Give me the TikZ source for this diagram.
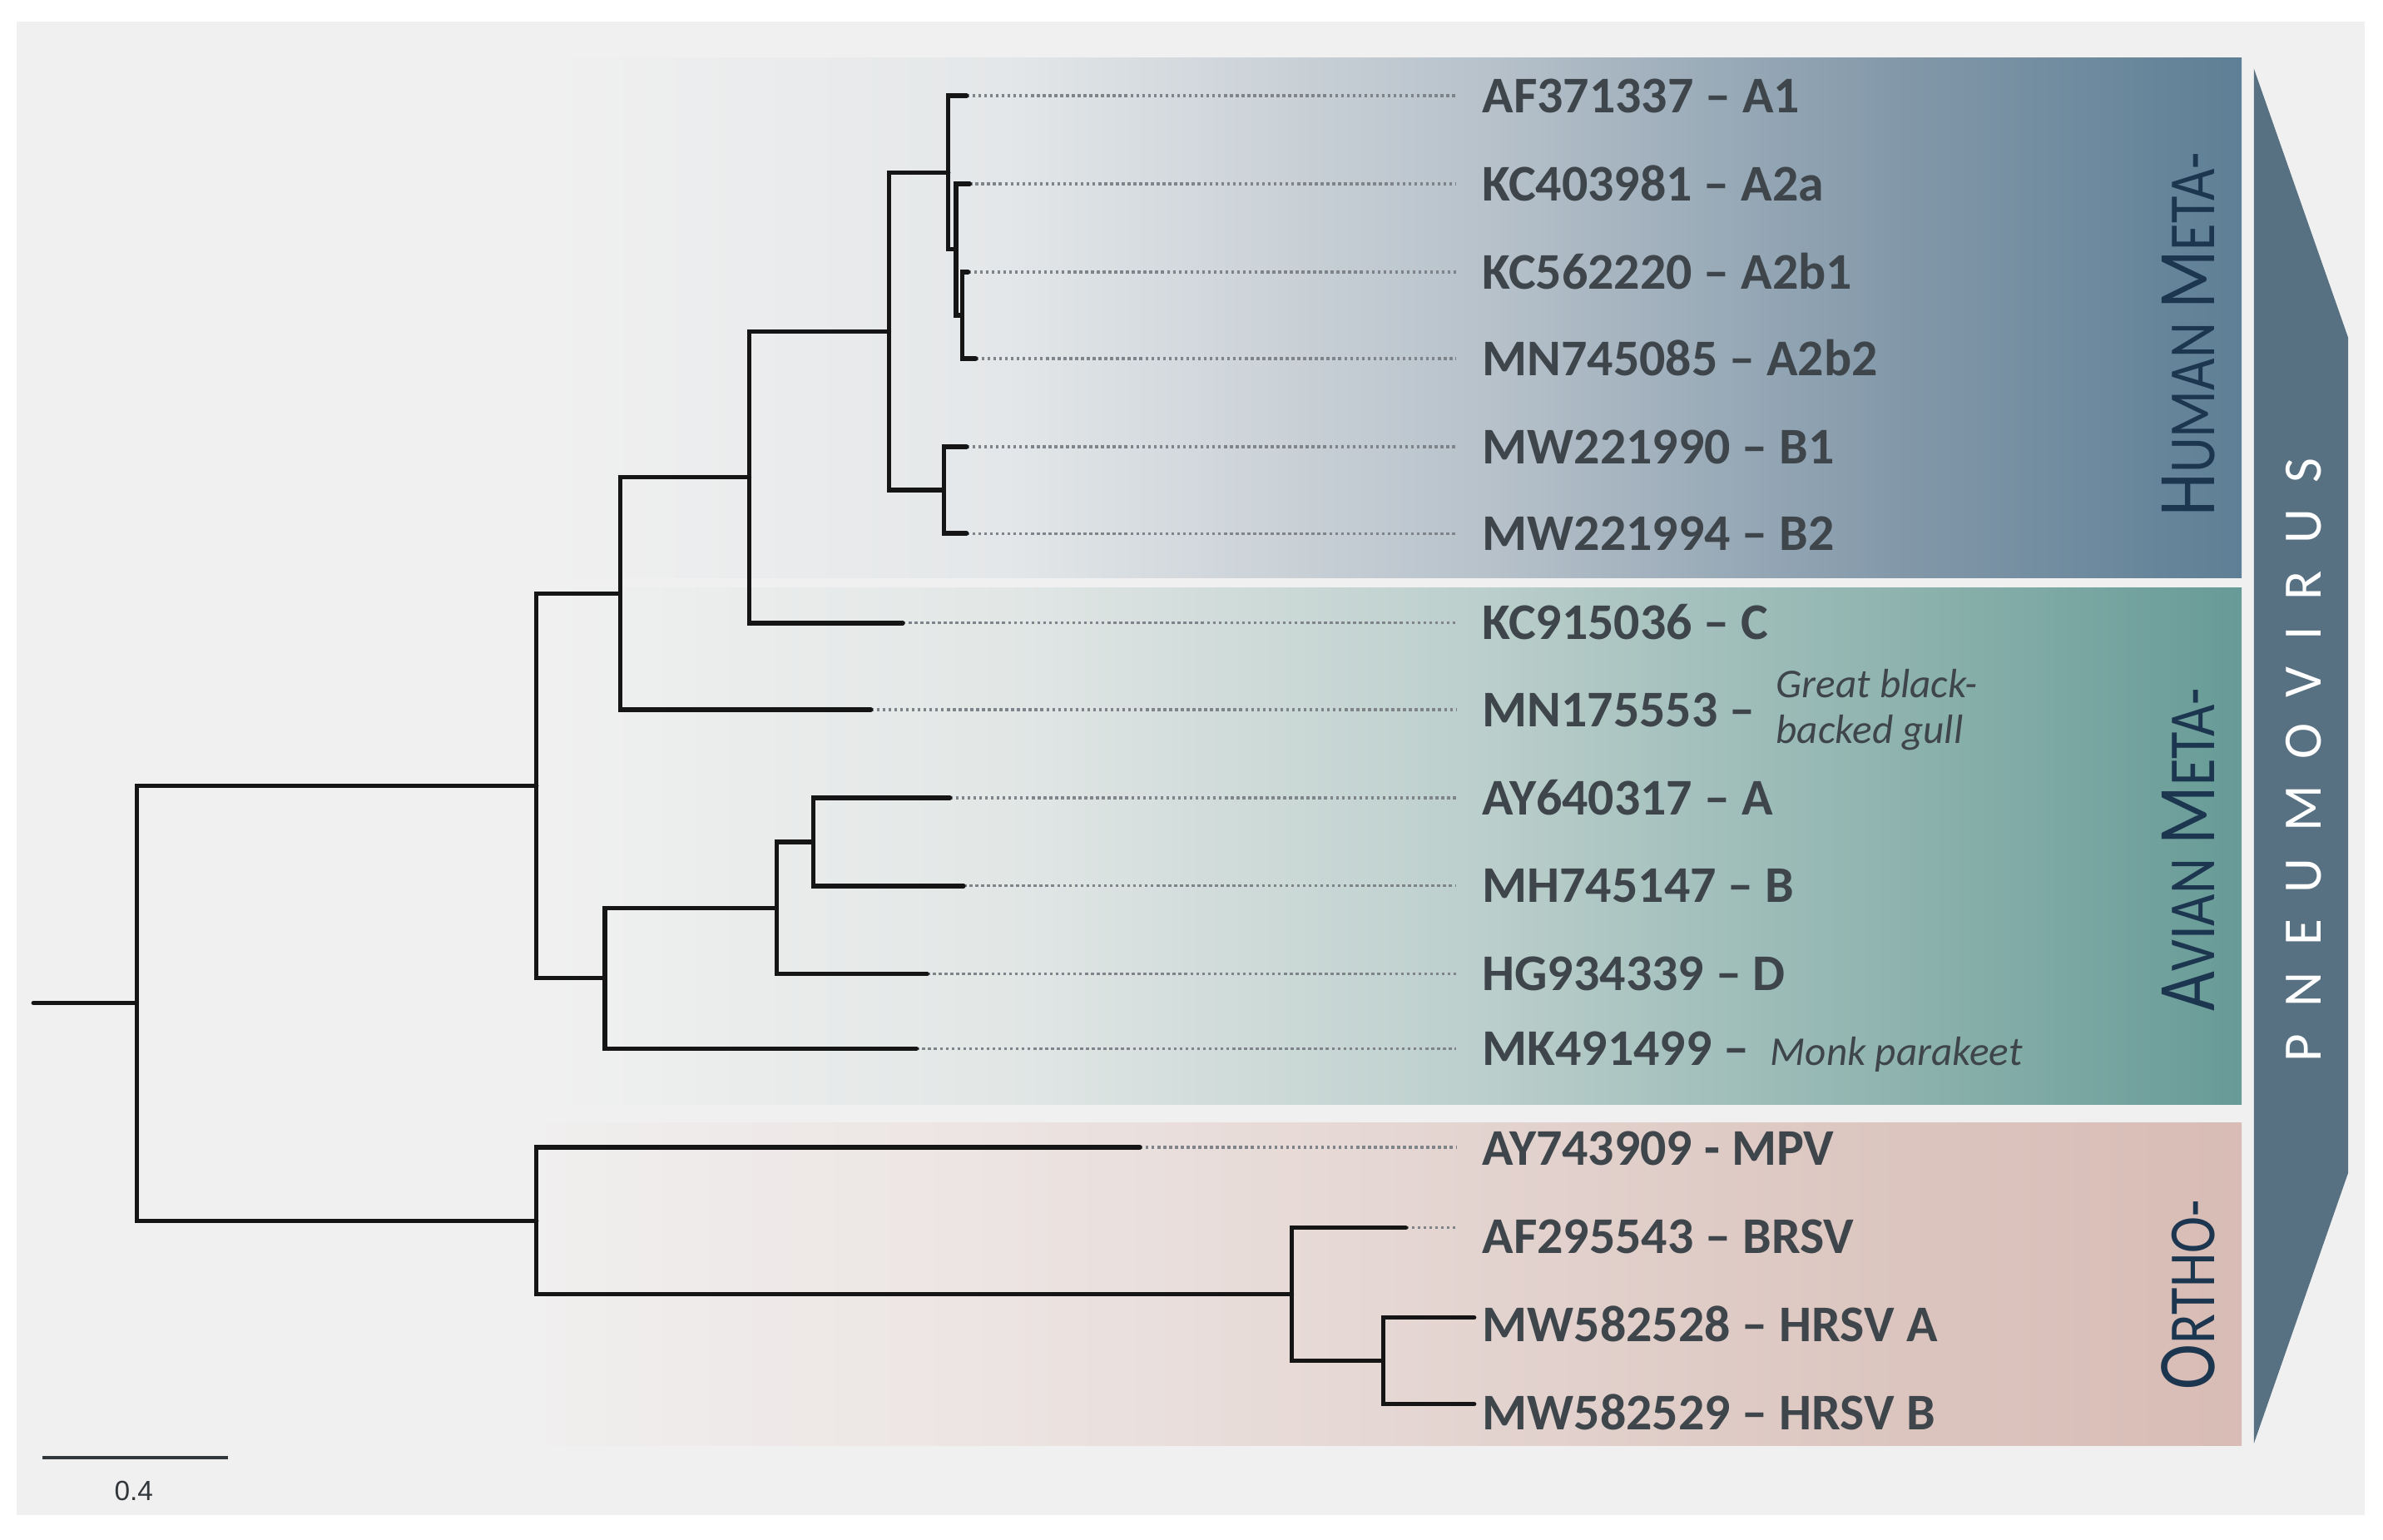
\documentclass[tikz,border=0pt]{standalone}
\usepackage{fontspec}
\setmainfont{Carlito}
\newfontfamily\barfont{Liberation Sans}
\usetikzlibrary{positioning}

\definecolor{pagegrey}{HTML}{F0F0F0}
\definecolor{treeline}{HTML}{151515}
\definecolor{dotgrey}{HTML}{7E8489}
\definecolor{labgrey}{HTML}{3E454B}
\definecolor{grpblue}{HTML}{1D3650}
\definecolor{arrowblue}{HTML}{587182}
% human
\definecolor{humA}{HTML}{E4E7E9}
\definecolor{humB}{HTML}{B6C1CA}
\definecolor{humC}{HTML}{8298A9}
\definecolor{humD}{HTML}{5E7F95}
% avian
\definecolor{aviA}{HTML}{E2E7E6}
\definecolor{aviB}{HTML}{BACECB}
\definecolor{aviC}{HTML}{8EB3AE}
\definecolor{aviD}{HTML}{679B97}
% ortho
\definecolor{ortO}{HTML}{F0EEEE}
\definecolor{ortA}{HTML}{ECE4E2}
\definecolor{ortB}{HTML}{E3D3CF}
\definecolor{ortC}{HTML}{DCC5BF}
\definecolor{ortD}{HTML}{D8BCB5}

\pgfdeclarehorizontalshading{humanfade}{100bp}{color(0bp)=(pagegrey); color(25bp)=(pagegrey);
  color(38.5bp)=(humA); color(53bp)=(humB); color(65bp)=(humC); color(75bp)=(humD); color(100bp)=(humD)}
\pgfdeclarehorizontalshading{avianfade}{100bp}{color(0bp)=(pagegrey); color(25bp)=(pagegrey);
  color(38.5bp)=(aviA); color(53bp)=(aviB); color(65bp)=(aviC); color(75bp)=(aviD); color(100bp)=(aviD)}
\pgfdeclarehorizontalshading{orthofade}{100bp}{color(0bp)=(ortO); color(25bp)=(ortO);
  color(38.5bp)=(ortA); color(53bp)=(ortB); color(65bp)=(ortC); color(75bp)=(ortD); color(100bp)=(ortD)}

\newcommand\smcaps[2]{{\fontsize{28}{30}\selectfont #1}{\fontsize{22.5}{24}\selectfont #2}}

\begin{document}
\begin{tikzpicture}[x=0.018265cm, y=-0.018265cm,
    branch/.style={line width=1.5pt, color=treeline, line cap=round},
    dots/.style={line width=0.9pt, color=dotgrey, dash pattern=on 1pt off 1pt},
    lab/.style={font=\fontsize{17.6}{20}\selectfont\bfseries, text=labgrey,
      inner xsep=0.31cm, inner ysep=0pt, anchor=base west},
    sub/.style={font=\fontsize{14}{15.6}\selectfont\itshape, text=labgrey,
      inner sep=0pt, align=left},
    grp/.style={rotate=90, text=grpblue, inner sep=0pt}]

  % page and panels
  \fill[white] (0,0) rectangle (1568,1013);
  \useasboundingbox (0,0) rectangle (1568,1013);
  \fill[pagegrey] (11,14) rectangle (1556,997);
  \shade[shading=humanfade] (360,38) rectangle (1475,380);
  \shade[shading=avianfade] (360,387) rectangle (1475,727);
  \shade[shading=orthofade] (360,739) rectangle (1475,951);
  \fill[arrowblue] (1483,45) -- (1545,222) -- (1545,772) -- (1483,950) -- cycle;

  % labels
  \foreach \n/\y/\t in {1/63/AF371337 – A1, 2/121/KC403981 – A2a, 3/179/KC562220 – A2b1,
      4/236/MN745085 – A2b2, 5/294/MW221990 – B1, 6/351/MW221994 – B2, 7/410/KC915036 – C,
      8/467/MN175553 –, 9/525/AY640317 – A, 10/583/MH745147 – B, 11/641/HG934339 – D,
      12/690/MK491499 –, 13/756/AY743909 - MPV, 14/814/AF295543 – BRSV,
      15/872/MW582528 – HRSV A, 16/930/MW582529 – HRSV B}
    \node[lab] (l\n) at (958,\y+11) {\t};
  \node[sub, right=-0.07cm of l8] (s8) {Great black-\\backed gull};
  \node[sub, base right=-0.07cm of l12] (s12) {Monk parakeet};

  \node[grp] (hum) at (1440,220) {\scalebox{0.84}[1]{\smcaps{H}{UMAN}\hspace{0.55em}\smcaps{M}{ETA-}}};
  \node[grp] (avi) at (1440,559) {\scalebox{0.84}[1]{\smcaps{A}{VIAN}\hspace{0.55em}\smcaps{M}{ETA-}}};
  \node[grp] (ort) at (1440,852) {\scalebox{0.84}[1]{\smcaps{O}{RTHO-}}};
  \node[rotate=90, text=white, inner sep=0pt, font=\fontsize{18.5}{20}\selectfont] (pneu)
    at (1516,500) {\addfontfeatures{LetterSpace=49}PNEUMOVIRUS};

  % leaf ends
  \foreach \n/\x/\y in {1/636/63, 2/638/121, 3/637/179, 4/642/236, 5/636/294, 6/636/351,
      7/594/410, 8/573/467, 9/625/525, 10/634/583, 11/610/641, 12/603/690,
      13/750/755, 14/925/808, 15/970/867, 16/970/924}
    \coordinate (t\n) at (\x,\y);

  % inner nodes
  \coordinate (r0) at (22,660);
  \coordinate (R) at (90,660);
  \coordinate (A) at (353,517);
  \coordinate (B) at (408,390.5);
  \coordinate (C) at (398,643.75);
  \coordinate (D) at (493,314);
  \coordinate (E) at (585,218);
  \coordinate (F) at (624,113.5);
  \coordinate (G) at (621,322.5);
  \coordinate (H) at (629,164);
  \coordinate (I) at (633,207.5);
  \coordinate (J) at (511,597.5);
  \coordinate (K) at (535,554);
  \coordinate (L) at (353,803.4);
  \coordinate (M) at (850,851.75);
  \coordinate (N) at (910,895.5);

  % dotted guides
  \foreach \n in {1,...,14}
    \draw[dots] (t\n) -- (t\n -| l\n.west);

  % tree
  \draw[branch] (r0) -- (R);
  \draw[branch] (R) |- (A);
  \draw[branch] (R) |- (L);
  \draw[branch] (A) |- (B);
  \draw[branch] (A) |- (C);
  \draw[branch] (B) |- (D);
  \draw[branch] (B) |- (t8);
  \draw[branch] (D) |- (E);
  \draw[branch] (D) |- (t7);
  \draw[branch] (E) |- (F);
  \draw[branch] (E) |- (G);
  \draw[branch] (F) |- (t1);
  \draw[branch] (F) |- (H);
  \draw[branch] (H) |- (t2);
  \draw[branch] (H) |- (I);
  \draw[branch] (I) |- (t3);
  \draw[branch] (I) |- (t4);
  \draw[branch] (G) |- (t5);
  \draw[branch] (G) |- (t6);
  \draw[branch] (C) |- (J);
  \draw[branch] (C) |- (t12);
  \draw[branch] (J) |- (K);
  \draw[branch] (J) |- (t11);
  \draw[branch] (K) |- (t9);
  \draw[branch] (K) |- (t10);
  \draw[branch] (L) |- (t13);
  \draw[branch] (L) |- (M);
  \draw[branch] (M) |- (t14);
  \draw[branch] (M) |- (N);
  \draw[branch] (N) |- (t15);
  \draw[branch] (N) |- (t16);

  % scale bar
  \coordinate (sb1) at (28,959);
  \coordinate (sb2) at (150,959);
  \draw[line width=1.1pt, color=labgrey!80!black] (sb1) -- (sb2);
  \node[font=\barfont\fontsize{9.5}{10}\selectfont, text=labgrey!80!black] (sbl) at (88,981) {0.4};
\end{tikzpicture}
\end{document}
